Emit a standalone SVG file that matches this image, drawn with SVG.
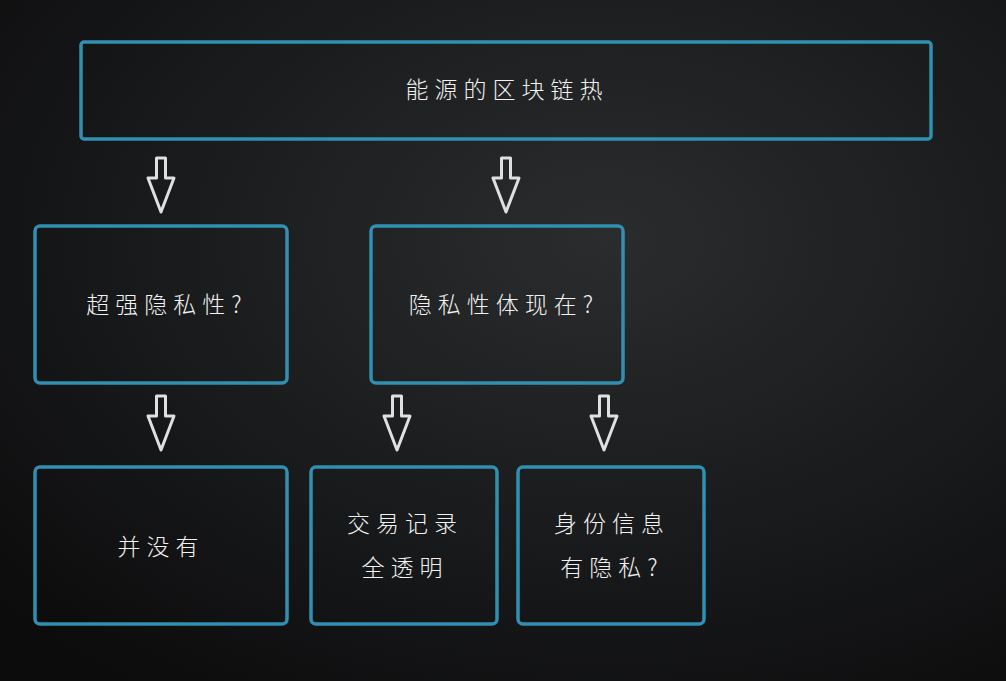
<svg xmlns="http://www.w3.org/2000/svg" width="1006" height="681" viewBox="0 0 1006 681">
<defs>
<radialGradient id="bg" cx="0.6" cy="0.35" r="0.8">
<stop offset="0" stop-color="#2a2c2e"/>
<stop offset="1" stop-color="#0c0c0d"/>
</radialGradient>
<path id="arr" d="M-4.5,0 H4.5 V20 H13 L0,54 L-13,20 H-4.5 Z" fill="none" stroke="#e0e0e0" stroke-width="3" stroke-linejoin="round"/>
</defs>
<style>
.box{fill:none;stroke:#3090b2;stroke-width:3.5}
.t{fill:#f2f2f2;font-family:"Noto Sans CJK SC","Noto Sans",sans-serif;font-weight:300;font-size:23px;letter-spacing:6px;text-anchor:middle}
</style>
<rect width="1006" height="681" fill="url(#bg)"/>
<g id="n1"><rect class="box" x="81" y="42" width="850" height="97" rx="3"/><text class="t" x="507" y="98">能源的区块链热</text></g>
<g id="n2"><rect class="box" x="35" y="226" width="252" height="157" rx="5"/><text class="t" x="167" y="313">超强隐私性?</text></g>
<g id="n3"><rect class="box" x="371" y="226" width="252" height="157" rx="5"/><text class="t" x="504" y="313">隐私性体现在?</text></g>
<g id="n4"><rect class="box" x="35" y="467" width="252" height="157" rx="5"/><text class="t" x="161" y="555">并没有</text></g>
<g id="n5"><rect class="box" x="311" y="467" width="186" height="157" rx="5"/><text class="t" x="405" y="532">交易记录</text><text class="t" x="405" y="576">全透明</text></g>
<g id="n6"><rect class="box" x="518" y="467" width="186" height="157" rx="5"/><text class="t" x="612" y="532">身份信息</text><text class="t" x="612" y="576">有隐私?</text></g>
<g id="connectors">
<use href="#arr" x="161" y="158"/>
<use href="#arr" x="506" y="158"/>
<use href="#arr" x="161" y="396"/>
<use href="#arr" x="397" y="396"/>
<use href="#arr" x="604" y="396"/>
</g>
</svg>
